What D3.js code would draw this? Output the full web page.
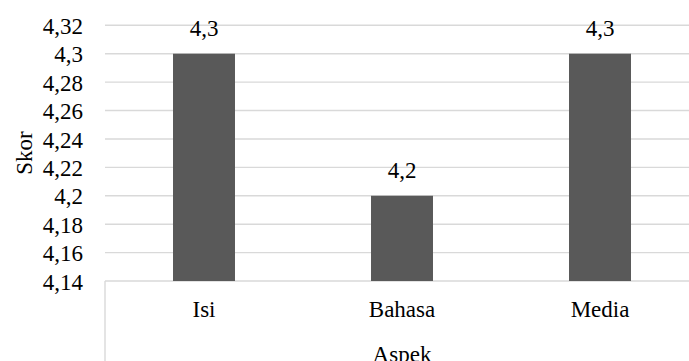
<!DOCTYPE html>
<html>
<head>
<meta charset="utf-8">
<script src="https://cdn.jsdelivr.net/npm/d3@7"></script>
<style>
  html, body { margin: 0; padding: 0; background: #fff; }
  svg { display: block; }
</style>
</head>
<body>
<svg id="chart" width="689" height="361"></svg>
<script>
// Scores per aspect
const categories = ["Isi", "Bahasa", "Media"];
const scores = [4.3, 4.2, 4.3];
const yTicks = [4.14, 4.16, 4.18, 4.2, 4.22, 4.24, 4.26, 4.28, 4.3, 4.32];
const yTitle = "Skor";
const xTitle = "Aspek";

const W = 689, H = 361;
const plotLeft = 105, plotRight = 699, plotTop = 25.3, plotBottom = 281;
const fontSize = "23px";
const fontFamily = '"Liberation Serif"';

const svg = d3.select("#chart");

const idLocale = d3.formatLocale({ decimal: ",", thousands: ".", grouping: [3], currency: ["Rp", ""] });
const fmt = idLocale.format("~g");

const x = d3.scaleBand()
  .domain(categories)
  .range([plotLeft, plotRight])
  .paddingInner(0.687)
  .paddingOuter(0.3435);

const y = d3.scaleLinear()
  .domain([4.14, 4.32])
  .range([plotBottom, plotTop]);

function styleText(sel) {
  return sel.style("font-family", fontFamily)
    .style("font-size", fontSize)
    .style("fill", "#000");
}

// horizontal gridlines (the lowest one doubles as the category axis line)
svg.append("g")
  .selectAll("line")
  .data(yTicks)
  .join("line")
  .attr("x1", plotLeft)
  .attr("x2", W)
  .attr("y1", d => y(d))
  .attr("y2", d => y(d))
  .attr("stroke", "#d9d9d9")
  .attr("stroke-width", 1.4);

// left border of the category axis area
svg.append("line")
  .attr("x1", plotLeft).attr("x2", plotLeft)
  .attr("y1", plotBottom).attr("y2", H)
  .attr("stroke", "#d9d9d9")
  .attr("stroke-width", 1.4);

// y tick labels
const yAxis = d3.axisLeft(y).tickValues(yTicks).tickFormat(fmt).tickSize(0).tickPadding(0);
const gy = svg.append("g").attr("transform", "translate(83,0)").call(yAxis);
gy.select(".domain").remove();
gy.attr("font-family", null);
styleText(gy.selectAll("text")).attr("dy", "0.35em");

// bars
svg.append("g")
  .selectAll("rect")
  .data(categories)
  .join("rect")
  .attr("x", d => x(d))
  .attr("width", x.bandwidth())
  .attr("y", (d, i) => y(scores[i]))
  .attr("height", (d, i) => y(4.14) - y(scores[i]))
  .attr("fill", "#595959");

// value labels
styleText(svg.append("g")
  .selectAll("text")
  .data(categories)
  .join("text")
  .attr("x", d => x(d) + x.bandwidth() / 2)
  .attr("y", (d, i) => y(scores[i]) - 18)
  .attr("text-anchor", "middle")
  .text((d, i) => fmt(scores[i])));

// category labels
const xAxis = d3.axisBottom(x).tickSize(0).tickPadding(0);
const gx = svg.append("g").attr("transform", `translate(0,${plotBottom})`).call(xAxis);
gx.select(".domain").remove();
gx.attr("font-family", null);
styleText(gx.selectAll("text"))
  .attr("dy", null)
  .attr("y", 35.7);

// axis titles
styleText(svg.append("text")
  .attr("transform", "translate(31.5,153) rotate(-90)")
  .attr("text-anchor", "middle")
  .text(yTitle));

styleText(svg.append("text")
  .attr("x", x("Bahasa") + x.bandwidth() / 2)
  .attr("y", 361.5)
  .attr("text-anchor", "middle")
  .text(xTitle));
</script>
</body>
</html>
